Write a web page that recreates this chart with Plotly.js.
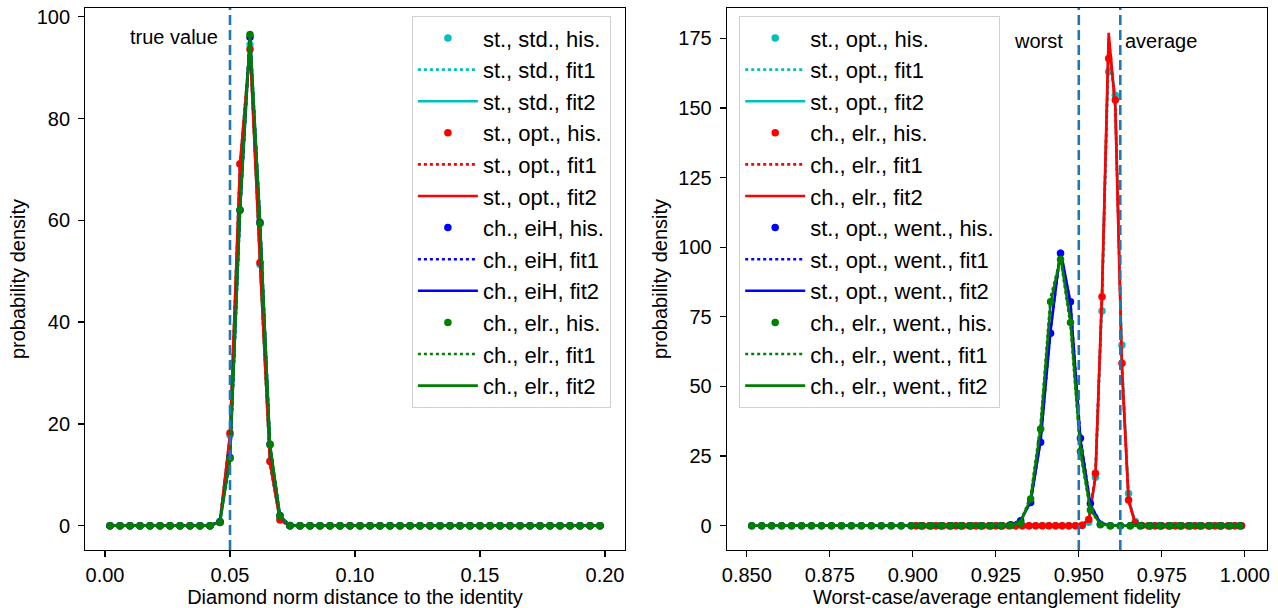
<!DOCTYPE html>
<html>
<head>
<meta charset="utf-8">
<script src="https://cdn.plot.ly/plotly-3.0.1.min.js"></script>
<style>html,body{margin:0;padding:0;background:#fff;}#chart{width:1278px;height:608px;}</style>
</head>
<body>
<div id="chart"></div>
<script>
// ---------- Left panel: diamond norm distance ----------
const leftX = [0.002,0.006,0.010,0.014,0.018,0.022,0.026,0.030,0.034,0.038,
  0.042,0.046,0.050,0.054,0.058,0.062,0.066,0.070,0.074,0.078,
  0.082,0.086,0.090,0.094,0.098,0.102,0.106,0.110,0.114,0.118,
  0.122,0.126,0.130,0.134,0.138,0.142,0.146,0.150,0.154,0.158,
  0.162,0.166,0.170,0.174,0.178,0.182,0.186,0.190,0.194,0.198];
const leftStStdHis = [0,0,0,0,0,0,0,0,0,0, 0,0.6,17.8,71.0,94.5,51.3,12.7,1.3,0.1,0, 0,0,0,0,0,0,0,0,0,0, 0,0,0,0,0,0,0,0,0,0, 0,0,0,0,0,0,0,0,0,0];
const leftStOptHis = [0,0,0,0,0,0,0,0,0,0, 0,0.6,18.2,71.1,93.6,51.7,12.6,1.1,0,0, 0,0,0,0,0,0,0,0,0,0, 0,0,0,0,0,0,0,0,0,0, 0,0,0,0,0,0,0,0,0,0];
const leftChEiHHis  = [0,0,0,0,0,0,0,0,0,0, 0,0.8,13.4,62.0,96.0,59.6,16.0,2.0,0,0, 0,0,0,0,0,0,0,0,0,0, 0,0,0,0,0,0,0,0,0,0, 0,0,0,0,0,0,0,0,0,0];
const leftChElrHis  = [0,0,0,0,0,0,0,0,0,0, 0,0.7,13.2,62.1,96.5,59.4,15.9,1.9,0,0, 0,0,0,0,0,0,0,0,0,0, 0,0,0,0,0,0,0,0,0,0, 0,0,0,0,0,0,0,0,0,0];

const leftFitX      = [0.002,0.042,0.046,0.050,0.054,0.058,0.062,0.066,0.070,0.074,0.198];
const leftStStdFit1 = [0,0,1.0,17.0,70.0,95.0,52.0,12.0,1.0,0,0];
const leftStStdFit2 = [0,0,0.9,17.5,70.5,94.8,51.8,12.3,1.1,0,0];
const leftStOptFit1 = [0,0,0.9,17.6,70.8,94.2,52.0,12.2,1.0,0,0];
const leftStOptFit2 = [0,0,0.8,18.0,71.0,93.8,51.8,12.5,1.1,0,0];
const leftChEiHFit1 = [0,0,0.9,13.0,61.5,96.3,60.0,15.5,1.8,0,0];
const leftChEiHFit2 = [0,0,0.8,13.3,61.8,96.2,59.8,15.8,1.9,0,0];
const leftChElrFit1 = [0,0,0.8,13.0,61.8,96.8,59.8,15.6,1.8,0,0];
const leftChElrFit2 = [0,0,0.7,13.2,62.0,96.6,59.5,15.9,1.9,0,0];

// ---------- Right panel: entanglement fidelity ----------
const rightWentX = [0.8515,0.8545,0.8575,0.8605,0.8635,0.8665,0.8695,0.8725,0.8755,0.8785,
  0.8815,0.8845,0.8875,0.8905,0.8935,0.8965,0.8995,0.9025,0.9055,0.9085,
  0.9115,0.9145,0.9175,0.9205,0.9235,0.9265,0.9295,0.9325,0.9355,0.9385,
  0.9415,0.9445,0.9475,0.9505,0.9535,0.9565,0.9595,0.9625,0.9655,0.9685,
  0.9715,0.9745,0.9775,0.9805,0.9835,0.9865,0.9895,0.9925,0.9955,0.9985];
const rightAvgX = [0.901,0.903,0.905,0.907,0.909,0.911,0.913,0.915,0.917,0.919,
  0.921,0.923,0.925,0.927,0.929,0.931,0.933,0.935,0.937,0.939,
  0.941,0.943,0.945,0.947,0.949,0.951,0.953,0.955,0.957,0.959,
  0.961,0.963,0.965,0.967,0.969,0.971,0.973,0.975,0.977,0.979,
  0.981,0.983,0.985,0.987,0.989,0.991,0.993,0.995,0.997,0.999];
const rightStOptHis = [0,0,0,0,0,0,0,0,0,0, 0,0,0,0,0,0,0,0,0,0, 0,0,0,0,0,0.1,1.2,17.4,77.1,163.0, 154.6,64.9,11.6,1.5,0.1,0,0,0,0,0, 0,0,0,0,0,0,0,0,0,0];
const rightChElrHis = [0,0,0,0,0,0,0,0,0,0, 0,0,0,0,0,0,0,0,0,0, 0,0,0,0,0,0.2,2.2,18.8,82.2,167.8, 152.9,58.3,9.2,1.0,0.1,0,0,0,0,0, 0,0,0,0,0,0,0,0,0,0];
const rightStOptWentHis = [0,0,0,0,0,0,0,0,0,0, 0,0,0,0,0,0,0,0,0,0, 0,0,0,0,0,0,0.3,1.8,8.3,30.0, 69.1,97.8,80.4,31.4,8.0,0.5,0,0,0,0, 0,0,0,0,0,0,0,0,0,0];
const rightChElrWentHis = [0,0,0,0,0,0,0,0,0,0, 0,0,0,0,0,0,0,0,0,0, 0,0,0,0,0,0,0.1,0.9,9.6,34.7, 80.4,95.6,73.0,26.6,5.6,0.3,0,0,0,0, 0,0,0,0,0,0,0,0,0,0];

const rightAvgFitX = [0.901,0.949,0.951,0.953,0.955,0.957,0.959,0.961,0.963,0.965,0.967,0.969,0.999];
const rightStOptFit1 = [0,0,0.3,1.9,17.2,81.0,172.0,153.5,59.0,10.0,1.1,0.1,0];
const rightStOptFit2 = [0,0,0.3,1.8,17.0,82.0,174.0,152.0,58.0,9.5,1.0,0.1,0];
const rightChElrFit1 = [0,0,0.4,2.3,18.0,83.0,175.0,151.0,57.0,9.2,1.0,0.1,0];
const rightChElrFit2 = [0,0,0.3,2.0,17.5,84.0,177.0,150.0,56.0,8.8,0.8,0.1,0];

const rightWentFitX = [0.8515,0.9235,0.9265,0.9295,0.9325,0.9355,0.9385,0.9415,0.9445,0.9475,0.9505,0.9535,0.9565,0.9595,0.9625,0.9985];
const rightStOptWentFit1 = [0,0,0,0.3,2.0,8.8,31.0,70.5,98.5,79.5,31.2,7.6,1.0,0.1,0,0];
const rightStOptWentFit2 = [0,0,0,0.3,1.9,8.5,30.5,70.0,99.0,80.0,31.0,7.5,0.9,0.1,0,0];
const rightChElrWentFit1 = [0,0,0,0.3,1.5,10.5,36.5,82.0,96.0,72.0,26.0,5.4,0.5,0,0,0];
const rightChElrWentFit2 = [0,0,0,0.2,1.2,9.8,35.0,80.0,96.5,73.5,27.0,5.8,0.6,0,0,0];

const leftLabels  = ['st., std.', 'st., opt.', 'ch., eiH', 'ch., elr.'];
const rightLabels = ['st., opt.', 'ch., elr.', 'st., opt., went.', 'ch., elr., went.'];
const colors = ['#00bfbf', '#ff0000', '#0000ff', '#008000'];

const trueValue = 0.05;
const worstValue = 0.95;
const averageValue = 0.9625;

// ---------- build traces ----------
const FONT = 'Liberation Sans, Arial, Helvetica, sans-serif';
const traces = [];
function addGroup(label, color, hx, hy, fx, f1, f2, xa, ya, leg) {
  traces.push({x: hx, y: hy, type: 'scatter', mode: 'markers', name: label + ', his.',
    marker: {color: color, size: 7.5}, xaxis: xa, yaxis: ya, legend: leg});
  traces.push({x: fx, y: f1, type: 'scatter', mode: 'lines', name: label + ', fit1',
    line: {color: color, width: 2.6, dash: 'dot'}, xaxis: xa, yaxis: ya, legend: leg});
  traces.push({x: fx, y: f2, type: 'scatter', mode: 'lines', name: label + ', fit2',
    line: {color: color, width: 2.6}, xaxis: xa, yaxis: ya, legend: leg});
}
addGroup(leftLabels[0], colors[0], leftX, leftStStdHis, leftFitX, leftStStdFit1, leftStStdFit2, 'x', 'y', 'legend');
addGroup(leftLabels[1], colors[1], leftX, leftStOptHis, leftFitX, leftStOptFit1, leftStOptFit2, 'x', 'y', 'legend');
addGroup(leftLabels[2], colors[2], leftX, leftChEiHHis, leftFitX, leftChEiHFit1, leftChEiHFit2, 'x', 'y', 'legend');
addGroup(leftLabels[3], colors[3], leftX, leftChElrHis, leftFitX, leftChElrFit1, leftChElrFit2, 'x', 'y', 'legend');

addGroup(rightLabels[0], colors[0], rightAvgX, rightStOptHis, rightAvgFitX, rightStOptFit1, rightStOptFit2, 'x2', 'y2', 'legend2');
addGroup(rightLabels[1], colors[1], rightAvgX, rightChElrHis, rightAvgFitX, rightChElrFit1, rightChElrFit2, 'x2', 'y2', 'legend2');
addGroup(rightLabels[2], colors[2], rightWentX, rightStOptWentHis, rightWentFitX, rightStOptWentFit1, rightStOptWentFit2, 'x2', 'y2', 'legend2');
addGroup(rightLabels[3], colors[3], rightWentX, rightChElrWentHis, rightWentFitX, rightChElrWentFit1, rightChElrWentFit2, 'x2', 'y2', 'legend2');

const W = 1278, H = 608;
const axisCommon = {
  showline: true, mirror: true, linecolor: '#000', linewidth: 1.3,
  ticks: 'outside', ticklen: 6, tickwidth: 1.3, tickcolor: '#000',
  showgrid: false, zeroline: false, automargin: false,
  tickfont: {family: FONT, size: 20, color: '#000'}
};
const yTop = 1 - 8 / H, yBot = 1 - 550 / H;
const titleFont = {family: FONT, size: 20, color: '#000'};

const legendCommon = {
  bgcolor: 'rgba(255,255,255,0.8)', bordercolor: '#d0d0d0', borderwidth: 1.2,
  font: {family: FONT, size: 22, color: '#000'},
  xanchor: 'left', yanchor: 'top', itemwidth: 60, tracegroupgap: 0
};

const layout = {
  width: W, height: H,
  margin: {l: 0, r: 0, t: 0, b: 0},
  paper_bgcolor: '#fff', plot_bgcolor: '#fff',
  showlegend: true,
  font: {family: FONT, size: 20, color: '#000'},
  xaxis: Object.assign({}, axisCommon, {
    domain: [85.4 / W, 624.6 / W], range: [-0.00784, 0.20784], ticklabelstandoff: 1,
    tickvals: [0, 0.05, 0.10, 0.15, 0.20], tickformat: '.2f', anchor: 'y',
    title: {text: 'Diamond norm distance to the identity', font: titleFont, standoff: 12}
  }),
  yaxis: Object.assign({}, axisCommon, {
    domain: [yBot, yTop], range: [-4.78, 101.73], dtick: 20, anchor: 'x', ticklabelstandoff: 4,
    title: {text: 'probability density', font: titleFont, standoff: 5}
  }),
  xaxis2: Object.assign({}, axisCommon, {
    domain: [727 / W, 1266.5 / W], range: [0.84404, 1.00654], ticklabelstandoff: 1,
    tickvals: [0.850, 0.875, 0.900, 0.925, 0.950, 0.975, 1.000], tickformat: '.3f', anchor: 'y2',
    title: {text: 'Worst-case/average entanglement fidelity', font: titleFont, standoff: 12}
  }),
  yaxis2: Object.assign({}, axisCommon, {
    domain: [yBot, yTop], range: [-8.73, 185.9], dtick: 25, anchor: 'x2', ticklabelstandoff: 4,
    title: {text: 'probability density', font: titleFont, standoff: 5}
  }),
  legend: Object.assign({}, legendCommon, {x: 411.7 / W, y: 1 - 16 / H}),
  legend2: Object.assign({}, legendCommon, {x: 739 / W, y: 1 - 16 / H}),
  shapes: [
    {type: 'line', xref: 'x', yref: 'y domain', x0: trueValue, x1: trueValue, y0: 0, y1: 1,
      line: {color: '#1f77b4', width: 2.6, dash: '10px,5px'}},
    {type: 'line', xref: 'x2', yref: 'y2 domain', x0: worstValue, x1: worstValue, y0: 0, y1: 1,
      line: {color: '#1f77b4', width: 2.6, dash: '10px,5px'}},
    {type: 'line', xref: 'x2', yref: 'y2 domain', x0: averageValue, x1: averageValue, y0: 0, y1: 1,
      line: {color: '#1f77b4', width: 2.6, dash: '10px,5px'}}
  ],
  annotations: [
    {text: 'true value', xref: 'x', yref: 'paper', x: trueValue, y: 1 - 37 / H, xanchor: 'right', yanchor: 'middle',
      xshift: -10, showarrow: false, font: {family: FONT, size: 20, color: '#000'}},
    {text: 'worst', xref: 'x2', yref: 'paper', x: worstValue, y: 1 - 41 / H, xanchor: 'right', yanchor: 'middle',
      xshift: -14, showarrow: false, font: {family: FONT, size: 20, color: '#000'}},
    {text: 'average', xref: 'x2', yref: 'paper', x: averageValue, y: 1 - 41 / H, xanchor: 'left', yanchor: 'middle',
      xshift: 3, showarrow: false, font: {family: FONT, size: 20, color: '#000'}}
  ]
};

Plotly.newPlot('chart', traces, layout, {displayModeBar: false, staticPlot: true});
</script>
</body>
</html>
